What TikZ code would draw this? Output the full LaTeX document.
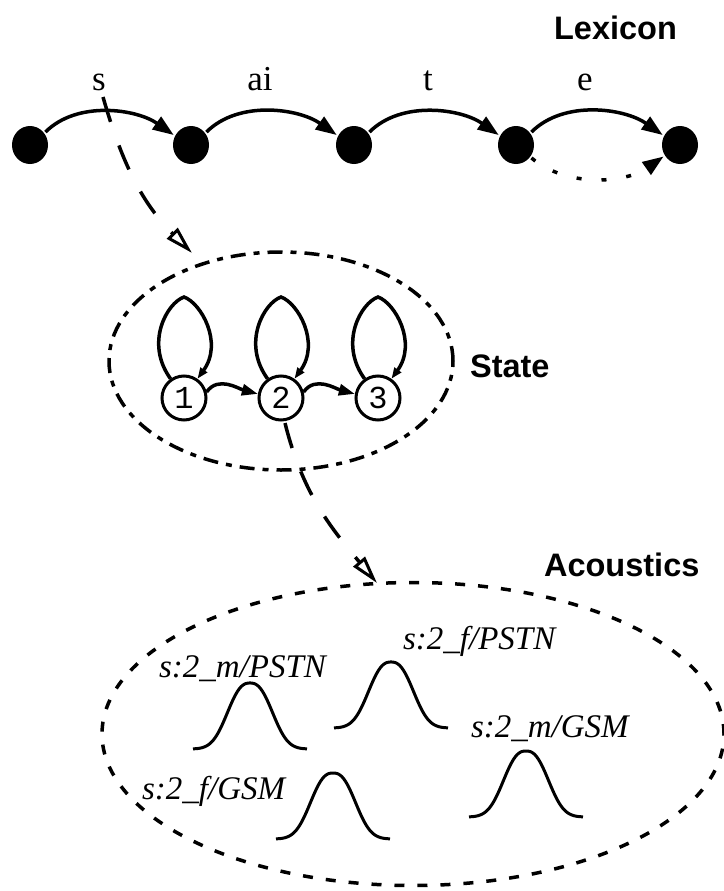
\documentclass[tikz,border=0pt]{standalone}
\usepackage{fontspec}
\setmainfont{Liberation Serif}
\newfontfamily\hvfont{Liberation Sans}
\newfontfamily\monofont{Liberation Mono}
\usetikzlibrary{arrows.meta,shapes.geometric,calc}
\begin{document}
\begin{tikzpicture}[x=1pt,y=-1pt,line width=3.5pt,
  dot/.style={ellipse,fill=black,minimum width=36pt,minimum height=38pt,inner sep=0pt},
  stnode/.style={circle,draw,line width=3pt,minimum size=44pt,inner sep=0pt,font=\monofont\fontsize{32}{32}\selectfont},
  phon/.style={anchor=base,font=\fontsize{35}{35}\selectfont},
  tagtext/.style={anchor=base west,font=\hvfont\bfseries\fontsize{32.5}{32.5}\selectfont},
  gauss/.style={anchor=base west,font=\itshape\fontsize{33}{33}\selectfont},
  bigarr/.style={-{Triangle[length=21pt,width=15pt]}},
  smallarr/.style={-{Triangle[length=11pt,width=8pt]}},
  midarr/.style={-{Triangle[length=16pt,width=11pt]}},
  openarr/.style={-{Triangle[open,length=28pt,width=15pt,line width=3pt]}},
  longdash/.style={dash pattern=on 26pt off 25pt},
  statedash/.style={dash pattern=on 15pt off 8pt on 6pt off 8pt},
  acdash/.style={dash pattern=on 10pt off 13pt},
  dotline/.style={dash pattern=on 5pt off 20pt}
]
\useasboundingbox (0,0) rectangle (723,891);

% Lexicon
\node[tagtext] (lex) at (549,40) {Lexicon};
\node[dot] (d1) at (30,145) {};
\node[dot] (d2) at (191,145) {};
\node[dot] (d3) at (354,145) {};
\node[dot] (d4) at (516,145) {};
\node[dot] (d5) at (680,145) {};
\node[phon] (ls) at (99,90) {s};
\node[phon] (lai) at (260,90) {ai};
\node[phon] (lt) at (428,90) {t};
\node[phon] (le) at (585,90) {e};
\draw[bigarr] (d1.40) to[out=45,in=145,looseness=0.9] (d2.150);
\draw[bigarr] (d2.40) to[out=45,in=145,looseness=0.9] (d3.150);
\draw[bigarr] (d3.40) to[out=45,in=145,looseness=0.9] (d4.150);
\draw[bigarr] (d4.40) to[out=45,in=145,looseness=0.9] (d5.150);
\draw[bigarr,dotline] (d4.-40) to[out=-40,in=-145,looseness=0.9] (d5.-145);

% dashed link s -> state
\coordinate (sa) at (103,97);
\coordinate (sb) at (192,253);
\draw[longdash,openarr] (sa) to[out=-74,in=135] (sb);

% State
\node[ellipse,draw,statedash,minimum width=344pt,minimum height=218pt,inner sep=0pt] (stell) at (281,361) {};
\node[tagtext] (sttag) at (465,377) {State};
\node[stnode] (c1) at (184,398) {1};
\node[stnode] (c2) at (281,398) {2};
\node[stnode] (c3) at (378,398) {3};
\foreach \c in {c1,c2,c3}{
  \draw[smallarr] (\c.125) .. controls +(-26,-36) and +(-17,6) .. ($(\c.center)+(0,-101)$)
                           .. controls +(17,6) and +(26,-36) .. (\c.55);
}
\draw[midarr] (c1.15) to[out=55,in=165] (c2.170);
\draw[midarr] (c2.15) to[out=55,in=165] (c3.170);

% dashed link state -> acoustics
\coordinate (ta) at (285,423);
\coordinate (tb) at (377,583);
\draw[longdash,openarr] (ta) to[out=-76,in=130] (tb);

% Acoustics
\node[ellipse,draw,acdash,minimum width=622pt,minimum height=303pt,inner sep=0pt] (acell) at (413,734) {};
\node[tagtext] (actag) at (539,576) {Acoustics};
\node[gauss] (g1) at (154,677) {s:2\_m/PSTN};
\node[gauss] (g2) at (398,649) {s:2\_f/PSTN};
\node[gauss] (g3) at (466,737) {s:2\_m/GSM};
\node[gauss] (g4) at (137,799) {s:2\_f/GSM};
\foreach \cx/\by in {250/749,391/728,526/817,333/839}{
  \draw[line width=3pt] plot[domain=-57:57,samples=80,smooth]
    ({\cx+\x},{\by-66*exp(-0.693*((abs(\x)+0.01)/24)^2.5)});
}
\end{tikzpicture}
\end{document}
